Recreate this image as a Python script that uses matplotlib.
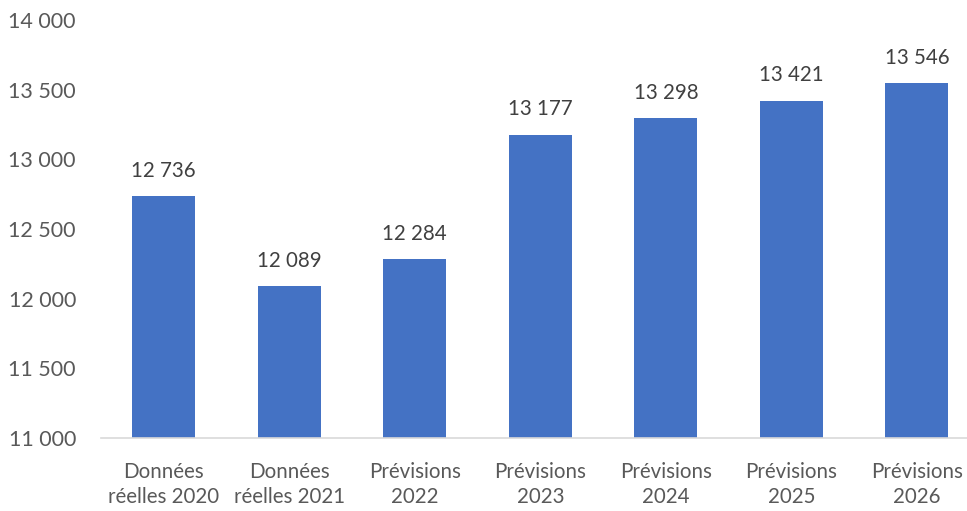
import matplotlib.pyplot as plt
from matplotlib.ticker import FuncFormatter

categories = ["Données\nréelles 2020", "Données\nréelles 2021", "Prévisions\n2022",
              "Prévisions\n2023", "Prévisions\n2024", "Prévisions\n2025", "Prévisions\n2026"]
values = [12736, 12089, 12284, 13177, 13298, 13421, 13546]
y_ticks = [11000, 11500, 12000, 12500, 13000, 13500, 14000]


def fr(v):
    return f"{int(v):,}".replace(",", " ")


plt.rcParams['font.family'] = ['Lato', 'DejaVu Sans']

fig = plt.figure(figsize=(9.67, 5.11), dpi=100)
ax = fig.add_axes([101 / 967, 73 / 511, (979.6 - 101) / 967, 418 / 511])

x = range(len(categories))
bars = ax.bar(x, values, width=0.5, color="#4472C4", zorder=2)

for xi, v in zip(x, values):
    ax.annotate(fr(v), (xi, v), xytext=(0, 11), textcoords="offset points",
                ha="center", va="bottom", fontsize=14.8, color="#404040")

ax.set_xlim(-0.5, 6.5)
ax.set_ylim(11000, 14000)
ax.set_yticks(y_ticks)
ax.yaxis.set_major_formatter(FuncFormatter(lambda v, p: fr(v)))
ax.set_xticks(list(x))
ax.set_xticklabels(categories, linespacing=1.35)

for s in ["top", "right", "left"]:
    ax.spines[s].set_visible(False)
ax.spines["bottom"].set_color("#D9D9D9")
ax.spines["bottom"].set_linewidth(1.2)
ax.tick_params(axis="both", length=0, labelsize=14.8, colors="#595959")
ax.tick_params(axis="y", labelsize=15.5, pad=18)
ax.tick_params(axis="x", pad=17)

fig.savefig("out.png", dpi=100)
